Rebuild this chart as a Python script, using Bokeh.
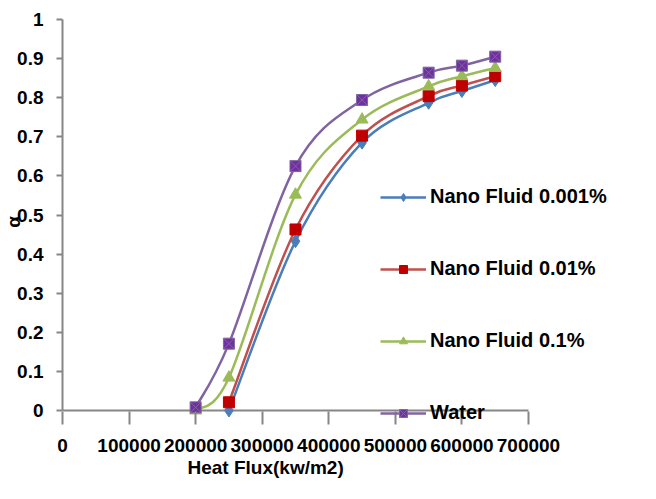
from bokeh.plotting import figure
from bokeh.models import (ColumnDataSource, Legend, LegendItem, Range1d,
                          FixedTicker, NumeralTickFormatter, Title)
from bokeh.embed import file_html
from bokeh.resources import INLINE

# ---- data ----
heat_flux_nano = [250000, 350000, 450000, 550000, 600000, 650000]
heat_flux_all = [200000, 250000, 350000, 450000, 550000, 600000, 650000]
nano_0001 = [0.0, 0.433, 0.685, 0.787, 0.817, 0.845]
nano_001 = [0.021, 0.463, 0.703, 0.804, 0.831, 0.855]
nano_01 = [0.0, 0.084, 0.552, 0.744, 0.829, 0.855, 0.876]
water = [0.008, 0.171, 0.625, 0.794, 0.864, 0.882, 0.905]

series_names = ["Nano Fluid 0.001%", "Nano Fluid 0.01%", "Nano Fluid 0.1%", "Water"]
x_ticks = [0, 100000, 200000, 300000, 400000, 500000, 600000, 700000]
y_ticks = [0, 0.1, 0.2, 0.3, 0.4, 0.5, 0.6, 0.7, 0.8, 0.9, 1.0]

FONT = "Liberation Sans"
FS = "19px"
AXIS_GREY = "#868686"

# frame extends right/down past the axes so the legend (which overlaps the
# axis area in the reference) is not clipped; axis lines are bounded.
p = figure(frame_width=552, frame_height=405, output_backend="svg",
           toolbar_location=None, x_range=Range1d(0, 829200),
           y_range=Range1d(-0.0358, 1.0),
           min_border_left=56, min_border_top=19, min_border_right=10,
           min_border_bottom=58)
p.outline_line_color = None
p.xgrid.visible = False
p.ygrid.visible = False
p.background_fill_color = "white"

# x-axis baseline at y = 0 (from 0 to the last tick)
p.segment(x0=[x_ticks[0]], y0=[y_ticks[0]], x1=[x_ticks[-1]], y1=[y_ticks[0]],
          line_color=AXIS_GREY, line_width=2)

def smooth_segments(xs, ys):
    n = len(xs)
    x0, y0, x1, y1, cx0, cy0, cx1, cy1 = [], [], [], [], [], [], [], []
    for i in range(n - 1):
        im1 = max(i - 1, 0)
        ip2 = min(i + 2, n - 1)
        x0.append(xs[i]); y0.append(ys[i])
        x1.append(xs[i + 1]); y1.append(ys[i + 1])
        cx0.append(xs[i] + (xs[i + 1] - xs[im1]) / 6.0)
        cy0.append(ys[i] + (ys[i + 1] - ys[im1]) / 6.0)
        cx1.append(xs[i + 1] - (xs[ip2] - xs[i]) / 6.0)
        cy1.append(ys[i + 1] - (ys[ip2] - ys[i]) / 6.0)
    return ColumnDataSource(dict(x0=x0, y0=y0, x1=x1, y1=y1,
                                 cx0=cx0, cy0=cy0, cx1=cx1, cy1=cy1))

specs = [
    (heat_flux_nano, nano_0001, "#4A7EBB", "#4A7EBB", "diamond", 13),
    (heat_flux_nano, nano_001, "#C0504D", "#C00000", "square", 11),
    (heat_flux_all, nano_01, "#9BBB59", "#9BBB59", "triangle", 12),
    (heat_flux_all, water, "#8064A2", "#7030A0", "square_x", 11),
]

items = []
for (xs, ys, lc, mc, marker, size), name in zip(specs, series_names):
    src = smooth_segments(xs, ys)
    p.bezier(x0="x0", y0="y0", x1="x1", y1="y1", cx0="cx0", cy0="cy0",
             cx1="cx1", cy1="cy1", source=src, line_color=lc, line_width=2.5)
    sc = p.scatter(xs, ys, marker=marker, size=size, fill_color=mc,
                   line_color=lc if marker == "square_x" else mc, line_width=1)
    lr = p.line([float("nan")], [float("nan")], line_color=lc, line_width=2.5)
    items.append(LegendItem(label=name, renderers=[lr, sc], index=0))

legend = Legend(items=items, location=(318, 0), glyph_width=46, glyph_height=20,
                label_height=20, label_standoff=4, spacing=49, padding=0, margin=0,
                border_line_color=None, background_fill_alpha=0,
                label_text_font=FONT, label_text_font_style="bold",
                label_text_font_size="20px", label_text_color="black")
p.add_layout(legend, "center")

for ax in (p.xaxis[0], p.yaxis[0]):
    ax.axis_line_color = AXIS_GREY
    ax.axis_line_width = 2
    ax.major_tick_line_color = AXIS_GREY
    ax.major_tick_line_width = 2
    ax.minor_tick_line_color = None
    ax.major_label_text_font = FONT
    ax.major_label_text_font_style = "bold"
    ax.major_label_text_font_size = FS
    ax.major_label_text_color = "black"
    ax.axis_label_text_font = FONT
    ax.axis_label_text_font_style = "bold"
    ax.axis_label_text_font_size = FS
    ax.axis_label_text_color = "black"
    ax.major_tick_in = 0

p.xaxis.ticker = FixedTicker(ticks=x_ticks)
p.xaxis.formatter = NumeralTickFormatter(format="0")
p.xaxis.axis_line_color = None
p.xaxis.major_tick_in = 13
p.xaxis.major_tick_out = 0
p.xaxis.major_label_standoff = 14

p.yaxis.ticker = FixedTicker(ticks=y_ticks)
p.yaxis.formatter = NumeralTickFormatter(format="0.[0]")
p.yaxis.bounds = (0, 1)
p.yaxis.major_tick_out = 6
p.yaxis.major_label_standoff = 13
p.yaxis.axis_label = "α"
p.yaxis.axis_label_standoff = -10

xtitle = Title(text="Heat Flux(kw/m2)", align="left", offset=125, standoff=0,
               text_font=FONT, text_font_style="bold", text_font_size=FS,
               text_color="black")
p.add_layout(xtitle, "below")

open("out.html", "w").write(file_html(p, INLINE))
